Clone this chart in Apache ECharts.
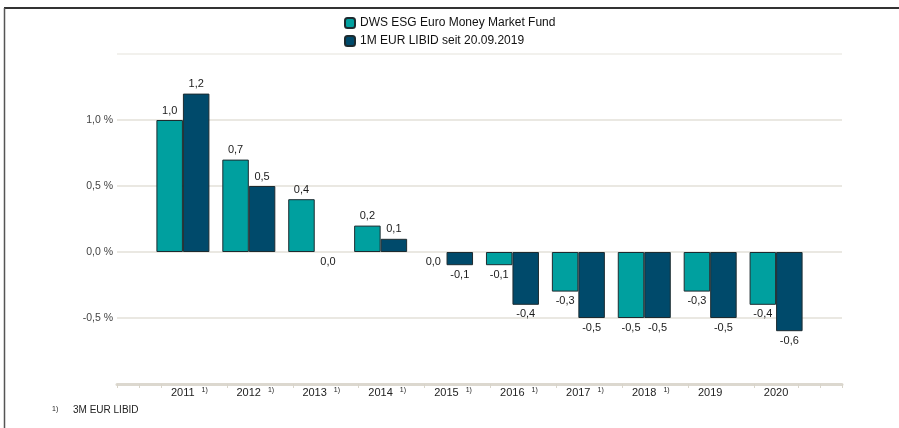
<!DOCTYPE html>
<html>
<head>
<meta charset="utf-8">
<script src="https://cdn.jsdelivr.net/npm/echarts@6/dist/echarts.min.js"></script>
<style>html,body{margin:0;padding:0;background:#fff}#c{width:899px;height:428px}</style>
</head>
<body>
<div id="c"></div>
<script>
var categories = ['2011','2012','2013','2014','2015','2016','2017','2018','2019','2020'];
var fundValues = [1.0, 0.7, 0.4, 0.2, 0.0, -0.1, -0.3, -0.5, -0.3, -0.4];
var libidValues = [1.2, 0.5, 0.0, 0.1, -0.1, -0.4, -0.5, -0.5, -0.5, -0.6];
var footnoteYears = ['2011','2012','2013','2014','2015','2016','2017','2018'];
var seriesNames = ['DWS ESG Euro Money Market Fund', '1M EUR LIBID seit 20.09.2019'];
var yTicks = [-0.5, 0.0, 0.5, 1.0];
var footnoteText = '3M EUR LIBID';

var FONT = 'Liberation Sans, Arial, sans-serif';
var cats = [''].concat(categories).concat(['']);
function pad(arr){ return [null].concat(arr).concat([null]); }
function fmt(v){ return v.toFixed(1).replace('.', ','); }
function items(arr){
  return pad(arr).map(function(v){
    if (v === null) return null;
    var it = { value: v, label: { position: v > 0 ? 'top' : 'bottom' } };
    if (v === 0) it.itemStyle = { borderWidth: 0, color: 'rgba(0,0,0,0)' };
    return it;
  });
}
var labelCfg = {
  show: true, distance: 4, fontSize: 11, color: '#1a1a1a', fontFamily: FONT,
  formatter: function(p){ return fmt(p.value); }
};

var chart = echarts.init(document.getElementById('c'));
chart.setOption({
  animation: false,
  backgroundColor: '#fff',
  textStyle: { fontFamily: FONT },
  legend: {
    orient: 'vertical', left: 339, top: 12, itemWidth: 10, itemHeight: 10, itemGap: 6,
    textStyle: { fontSize: 12, color: '#111', fontFamily: FONT },
    data: seriesNames
  },
  grid: { left: 117, right: 57, top: 54, bottom: 44 },
  xAxis: [{
    type: 'category', data: cats, boundaryGap: false,
    axisLine: { show: false }, axisTick: { show: false }, splitLine: { show: false },
    axisLabel: {
      interval: 0, margin: 3, color: '#222', fontSize: 11, fontFamily: FONT,
      formatter: function(v){
        if (!v) return '';
        if (footnoteYears.indexOf(v) >= 0) return '{p|}{y|' + v + '}{s|1)}';
        return '{y|' + v + '}';
      },
      rich: {
        y: { fontSize: 11, color: '#222', fontFamily: FONT },
        p: { width: 13 },
        s: { fontSize: 7, color: '#222', padding: [0,0,0,7], verticalAlign: 'top', fontFamily: FONT }
      }
    }
  }, {
    type: 'value', min: 0, max: 33, interval: 1, position: 'bottom',
    axisLine: { show: true, onZero: false, lineStyle: { color: '#dcd8cf', width: 3 } },
    axisTick: { show: true, length: 4, inside: false, lineStyle: { color: '#d8d4ca', width: 1 },
      customValues: [0,1,2,5,8,11,14,17,20,23,26,29,31,32,33] },
    axisLabel: { show: false }, splitLine: { show: false }
  }],
  yAxis: {
    type: 'value', min: -1.0, max: 1.5, interval: 0.5,
    axisLine: { show: false }, axisTick: { show: false },
    splitLine: { show: true, lineStyle: { color: ['#e3e0d8','#e3e0d8','#e3e0d8','#e3e0d8','#e3e0d8','#eeece7'], width: 1.5 } },
    axisLabel: {
      margin: 4, color: '#444', fontSize: 10.5, fontFamily: FONT,
      formatter: function(v){
        for (var i = 0; i < yTicks.length; i++) if (Math.abs(yTicks[i] - v) < 1e-9) return fmt(v) + ' %';
        return '';
      }
    }
  },
  series: [{
    name: seriesNames[0], type: 'bar', xAxisIndex: 0, barWidth: 26.5, barGap: '0%',
    itemStyle: { color: '#00a09f', borderColor: '#1d2b30', borderWidth: 1 },
    label: labelCfg, data: items(fundValues)
  }, {
    name: seriesNames[1], type: 'bar', xAxisIndex: 0, barWidth: 26.5, barGap: '0%',
    itemStyle: { color: '#004a6b', borderColor: '#1d2b30', borderWidth: 1 },
    label: labelCfg, data: items(libidValues)
  }],
  graphic: [
    { type: 'line', shape: { x1: 4, y1: 8, x2: 899, y2: 8 }, style: { stroke: '#333', lineWidth: 2 } },
    { type: 'line', shape: { x1: 4.5, y1: 8, x2: 4.5, y2: 428 }, style: { stroke: '#555', lineWidth: 1.5 } },
    { type: 'text', left: 52, top: 406, style: { text: '1)', fontSize: 7, fill: '#222', fontFamily: FONT } },
    { type: 'text', left: 73, top: 405, style: { text: footnoteText, fontSize: 10, fill: '#222', fontFamily: FONT } }
  ]
});
</script>
</body>
</html>
